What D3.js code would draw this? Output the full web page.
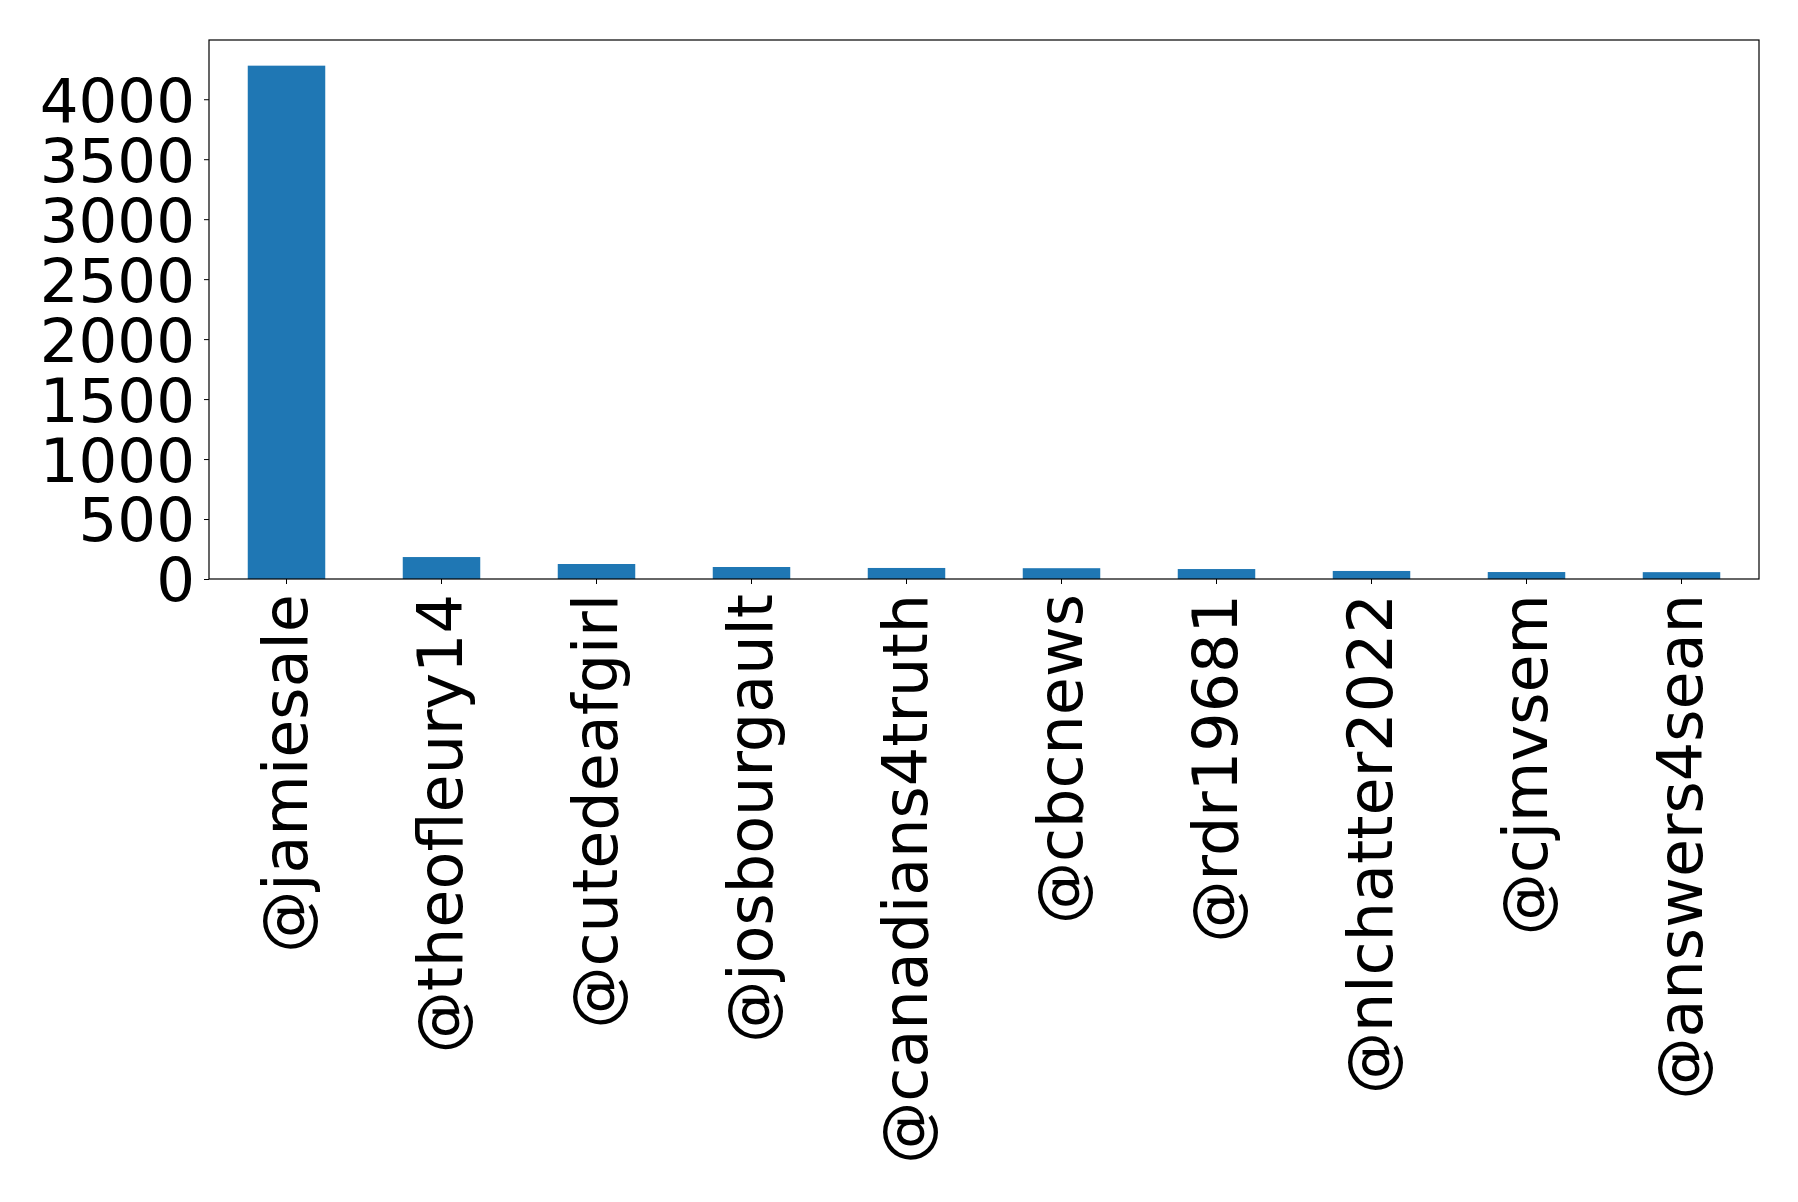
<!DOCTYPE html>
<html lang="en">
<head>
    <meta charset="UTF-8">
    <title>Top mentions</title>
    <script src="https://d3js.org/d3.v7.min.js"></script>
    <style>
        body {
            margin: 0;
            padding: 0;
            background-color: #ffffff;
        }

        .tick text {
            font-family: "DejaVu Sans", sans-serif;
            fill: #000;
        }

        #y-axis .tick text {
            font-size: 61px;
        }

        #x-axis .tick text {
            font-size: 62px;
        }

        .tick line,
        .domain {
            stroke: #000;
        }
    </style>
</head>
<body>
    <script>
        // Données
        const accounts = ["@jamiesale", "@theofleury14", "@cutedeafgirl", "@josbourgault",
            "@canadians4truth", "@cbcnews", "@rdr19681", "@nlchatter2022", "@cjmvsem", "@answers4sean"];
        const counts = [4280, 183, 125, 100, 92, 90, 83, 67, 58, 57];
        const yTicks = [0, 500, 1000, 1500, 2000, 2500, 3000, 3500, 4000];

        const width = 1798;
        const height = 1202;
        const margin = { top: 40, right: 39, bottom: 623, left: 209 };

        const svg = d3.select("body")
            .append("svg")
            .attr("width", width)
            .attr("height", height);

        // Échelles (marge de 5 % au-dessus comme matplotlib)
        const xScale = d3.scaleBand()
            .domain(accounts)
            .range([margin.left, width - margin.right])
            .paddingInner(0.5)
            .paddingOuter(0.25);

        const yScale = d3.scaleLinear()
            .domain([0, d3.max(counts) * 1.05])
            .range([height - margin.bottom, margin.top]);

        // Barres
        svg.selectAll(".bar")
            .data(accounts)
            .enter()
            .append("rect")
            .attr("class", "bar")
            .attr("x", (d) => xScale(d))
            .attr("y", (d, i) => yScale(counts[i]))
            .attr("width", xScale.bandwidth())
            .attr("height", (d, i) => yScale(0) - yScale(counts[i]))
            .attr("fill", "#1f77b4");

        // Axe Y
        svg.append("g")
            .attr("id", "y-axis")
            .attr("transform", `translate(${margin.left},0)`)
            .call(d3.axisLeft(yScale).tickValues(yTicks).tickSize(5).tickPadding(9).tickFormat(d3.format("d")))
            .call(g => g.select(".domain").remove())
            .selectAll("text")
            .attr("dy", "0.36em");

        // Axe X avec libellés verticaux
        svg.append("g")
            .attr("id", "x-axis")
            .attr("transform", `translate(0,${height - margin.bottom})`)
            .call(d3.axisBottom(xScale).tickSize(5).tickPadding(0))
            .call(g => g.select(".domain").remove())
            .selectAll("text")
            .attr("text-anchor", "end")
            .attr("transform", "rotate(-90)")
            .attr("x", -15)
            .attr("y", 0)
            .attr("dy", "0.33em");

        // Cadre des axes
        svg.append("rect")
            .attr("x", margin.left)
            .attr("y", margin.top)
            .attr("width", width - margin.left - margin.right)
            .attr("height", height - margin.top - margin.bottom)
            .attr("fill", "none")
            .attr("stroke", "#000")
            .attr("stroke-width", 1.2);
    </script>
</body>
</html>
